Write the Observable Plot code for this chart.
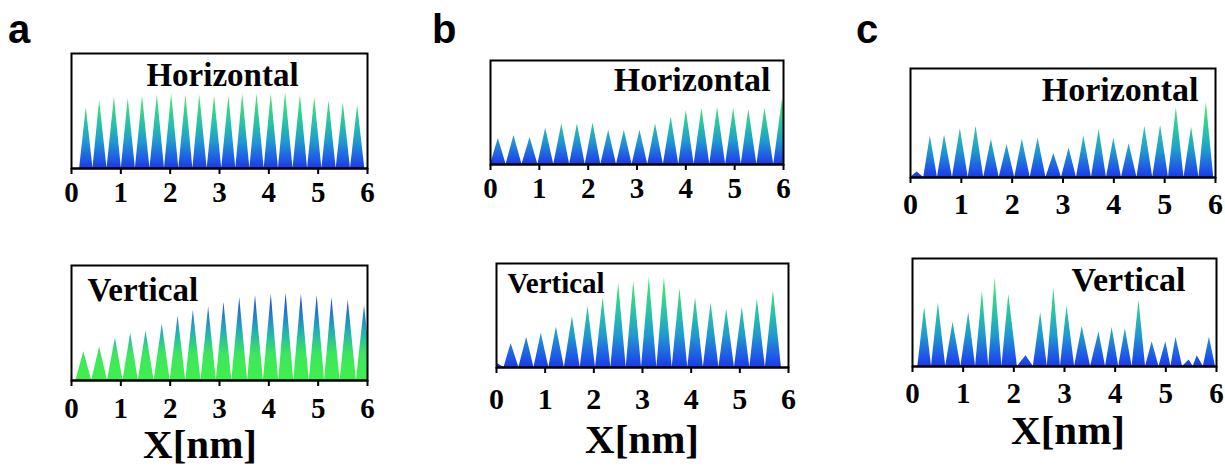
<!DOCTYPE html>
<html><head><meta charset="utf-8">
<script src="https://cdn.jsdelivr.net/npm/d3@7"></script>
<script src="https://cdn.jsdelivr.net/npm/@observablehq/plot@0.6"></script>
<style>
html,body{margin:0;padding:0;background:#fff;overflow:hidden;}
#root{position:relative;width:1225px;height:466px;}
.panel{position:absolute;}
#overlay{position:absolute;left:0;top:0;}
</style></head><body><div id="root"></div>
<script>
// ---------- data ----------
const xTicks = [0, 1, 2, 3, 4, 5, 6];
const panelLetters = ["a", "b", "c"];
const scanLabels = ["Horizontal", "Vertical"];
const xLabel = "X[nm]";

// peak positions (nm) and peak heights (% of panel height)
const aHorizontalX = [0.30,0.57,0.87,1.15,1.44,1.74,2.03,2.32,2.60,2.90,3.19,3.47,3.76,4.05,4.34,4.64,4.93,5.22,5.51,5.80];
const aHorizontalH = [53,59,62,61,63,64,65,64,64,63,63,65,65,65,66,64,62,59,57,55];
const aVerticalX = [0.25,0.57,0.89,1.20,1.51,1.84,2.16,2.47,2.78,3.09,3.41,3.73,4.05,4.35,4.66,4.98,5.28,5.61,5.94];
const aVerticalH = [25,29,37,41,43,49,56,61,64,68,72,74,75,76,75,74,72,70,65];
const bHorizontalX = [0.16,0.48,0.81,1.13,1.46,1.78,2.10,2.42,2.74,3.06,3.38,3.70,4.01,4.33,4.65,4.98,5.29,5.62,5.98];
const bHorizontalH = [25,28,26,35,39,39,40,33,33,33,39,46,52,54,55,54,53,54,63];
const bVerticalX = [0.01,0.30,0.62,0.92,1.23,1.56,1.88,2.19,2.51,2.82,3.14,3.45,3.77,4.09,4.41,4.73,5.05,5.36,5.69];
const bVerticalH = [4,23,29,33,39,49,59,67,81,83,87,87,76,67,62,56,58,66,74];
const cHorizontalX = [0.13,0.39,0.67,0.98,1.29,1.59,1.90,2.20,2.51,2.82,3.12,3.41,3.71,4.00,4.30,4.61,4.92,5.23,5.53,5.82];
const cHorizontalH = [5,38,39,45,47,35,30,35,36,22,27,38,44,36,31,47,48,64,46,69];
const cVerticalX = [0.24,0.51,0.80,1.11,1.38,1.63,1.90,2.24,2.53,2.79,3.05,3.35,3.68,3.94,4.20,4.47,4.73,5.00,5.20,5.46,5.62,5.86];
const cVerticalH = [55,59,41,50,70,82,67,10,50,73,56,37,32,36,35,61,23,23,27,6,10,27];

// ---------- styles ----------
const blueToGreen = [[0,"#1a3ae8"],[0.12,"#1f5ae6"],[0.35,"#1f9ad0"],[0.6,"#28c4a4"],[0.85,"#3ade78"],[1,"#44e86a"]];
const greenToBlue = [[0,"#40f04c"],[0.3,"#3de65e"],[0.55,"#22b2b0"],[0.8,"#1f72d2"],[1,"#1a3ccc"]];
const serif = "'Liberation Serif','Times New Roman',serif";
const sans = "'Liberation Sans',Arial,sans-serif";

// ---------- layout ----------
const panels = [
  {id:"aH", xs:aHorizontalX, hs:aHorizontalH, label:scanLabels[0], grad:blueToGreen, L:71,  R:367,  T:53,  B:168, tfs:29, tpad:7.4,  lfs:33, anchor:"top",       ta:"middle", dx:3,   dy:32},
  {id:"aV", xs:aVerticalX,   hs:aVerticalH,   label:scanLabels[1], grad:greenToBlue, L:71,  R:367,  T:265, B:380, tfs:29, tpad:11,   lfs:33, anchor:"top-left",  ta:"start",  dx:16,  dy:35},
  {id:"bH", xs:bHorizontalX, hs:bHorizontalH, label:scanLabels[0], grad:blueToGreen, L:490, R:783,  T:60,  B:164, tfs:29, tpad:7.4,  lfs:34, anchor:"top-right", ta:"end",    dx:-13, dy:30},
  {id:"bV", xs:bVerticalX,   hs:bVerticalH,   label:scanLabels[1], grad:blueToGreen, L:496, R:788,  T:263, B:367, tfs:30, tpad:13.7, lfs:29, anchor:"top-left",  ta:"start",  dx:11,  dy:29},
  {id:"cH", xs:cHorizontalX, hs:cHorizontalH, label:scanLabels[0], grad:blueToGreen, L:910, R:1215, T:68,  B:177, tfs:30, tpad:8.7,  lfs:34, anchor:"top-right", ta:"end",    dx:-17, dy:32},
  {id:"cV", xs:cVerticalX,   hs:cVerticalH,   label:scanLabels[1], grad:blueToGreen, L:912, R:1216, T:258, B:366, tfs:29, tpad:10.4, lfs:34, anchor:"top-right", ta:"end",    dx:-31, dy:32}
];

function profile(xs, hs) {
  const pts = [];
  for (let i = 0; i < xs.length; i++) {
    const left = i > 0 ? (xs[i-1] + xs[i]) / 2 : xs[i] - (xs[1] - xs[0]) / 2;
    const right = i < xs.length - 1 ? (xs[i] + xs[i+1]) / 2 : xs[i] + (xs[i] - xs[i-1]) / 2;
    if (i === 0) pts.push({x: left, y: 0});
    pts.push({x: xs[i], y: hs[i]});
    pts.push({x: right, y: 0});
  }
  return pts;
}

const root = document.getElementById("root");
const ML = 25, MR = 8, MT = 5, MB = 48;
const NS = "http://www.w3.org/2000/svg";
const TICK = 6;

for (const p of panels) {
  const width = p.R - p.L + ML + MR;
  const height = p.B - p.T + MT + MB;
  const gid = "grad-" + p.id;
  const svg = Plot.plot({
    width, height, marginLeft: ML, marginRight: MR, marginTop: MT, marginBottom: MB,
    x: {domain: [0, 6], axis: null},
    y: {domain: [0, 100], axis: null},
    style: {fontFamily: serif, fontWeight: "bold", color: "#000", background: "transparent", overflow: "visible"},
    marks: [
      Plot.areaY(profile(p.xs, p.hs), {x: "x", y: "y", fill: `url(#${gid})`, curve: "linear", clip: true}),
      Plot.ruleY([0], {stroke: "#000", strokeWidth: 2}),
      Plot.frame({stroke: "#000", strokeWidth: 2}),
      Plot.axisX(xTicks, {tickSize: TICK, strokeWidth: 2, tickFormat: () => "", label: null}),
      Plot.text(xTicks, {x: d => d, text: d => String(d), frameAnchor: "bottom", lineAnchor: "top", dy: TICK + p.tpad, fontSize: p.tfs, fontWeight: "bold", fontFamily: serif, fill: "#000"}),
      Plot.text([p.label], {text: d => d, frameAnchor: p.anchor, textAnchor: p.ta, lineAnchor: "bottom", dx: p.dx, dy: p.dy, fontSize: p.lfs, fontWeight: "bold", fontFamily: serif, fill: "#000"})
    ]
  });
  // vertical gradient tied to the panel's own tallest peak
  const innerH = height - MT - MB;
  const maxH = d3.max(p.hs);
  const defs = document.createElementNS(NS, "defs");
  const lg = document.createElementNS(NS, "linearGradient");
  lg.setAttribute("id", gid);
  lg.setAttribute("gradientUnits", "userSpaceOnUse");
  lg.setAttribute("x1", 0); lg.setAttribute("x2", 0);
  lg.setAttribute("y1", MT + innerH);
  lg.setAttribute("y2", MT + innerH * (1 - maxH / 100));
  for (const [o, c] of p.grad) {
    const s = document.createElementNS(NS, "stop");
    s.setAttribute("offset", o); s.setAttribute("stop-color", c);
    lg.appendChild(s);
  }
  defs.appendChild(lg);
  svg.insertBefore(defs, svg.firstChild);
  const div = document.createElement("div");
  div.className = "panel";
  div.style.left = (p.L - ML) + "px";
  div.style.top = (p.T - MT) + "px";
  div.appendChild(svg);
  root.appendChild(div);
}

// overlay: panel letters and x-axis titles
const ov = d3.select(root).append("svg").attr("id", "overlay").attr("width", 1225).attr("height", 466);
const letterPos = [[8, 43], [432, 43], [856, 43]];
const titlePos = [[200, 458], [642, 453], [1068, 444]];
panelLetters.forEach((t, i) => {
  ov.append("text").attr("x", letterPos[i][0]).attr("y", letterPos[i][1])
    .attr("font-family", sans).attr("font-weight", "bold").attr("font-size", 40).text(t);
  ov.append("text").attr("x", titlePos[i][0]).attr("y", titlePos[i][1]).attr("text-anchor", "middle")
    .attr("font-family", serif).attr("font-weight", "bold").attr("font-size", 41).text(xLabel);
});
</script></body></html>
